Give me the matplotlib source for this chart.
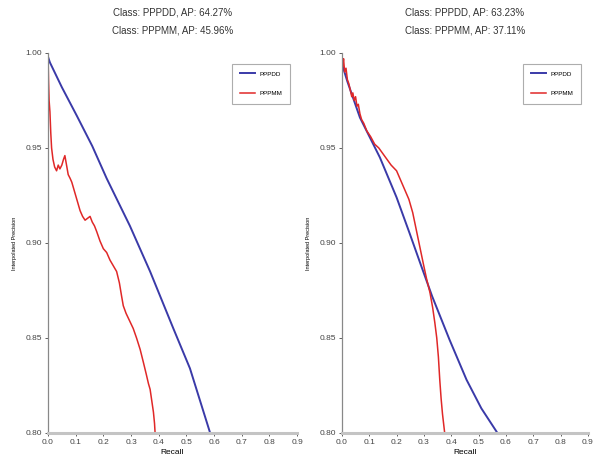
import matplotlib.pyplot as plt
from matplotlib.ticker import FormatStrFormatter
import numpy as np

# 左图数据 (recall, precision)
left_dd_recall = [0.0, 0.007, 0.05, 0.104, 0.16, 0.212, 0.296, 0.369, 0.453, 0.513, 0.586]
left_dd_prec = [0.998, 0.995, 0.982, 0.967, 0.951, 0.934, 0.909, 0.885, 0.855, 0.834, 0.800]

left_mm_recall = [0.0, 0.002, 0.004, 0.007, 0.010, 0.013, 0.018, 0.024, 0.031, 0.037, 0.043,
                  0.050, 0.056, 0.061, 0.067, 0.073, 0.080, 0.086, 0.092, 0.100, 0.108,
                  0.116, 0.125, 0.134, 0.143, 0.152, 0.160, 0.168, 0.176, 0.188, 0.200,
                  0.212, 0.224, 0.236, 0.248, 0.258, 0.266, 0.272, 0.282, 0.295, 0.308,
                  0.320, 0.333, 0.345, 0.355, 0.363, 0.369, 0.375, 0.381, 0.385, 0.387]
left_mm_prec = [1.000, 0.985, 0.975, 0.969, 0.958, 0.950, 0.944, 0.940, 0.938, 0.941, 0.939,
                0.941, 0.944, 0.946, 0.941, 0.936, 0.934, 0.932, 0.929, 0.925, 0.921,
                0.917, 0.914, 0.912, 0.913, 0.914, 0.911, 0.909, 0.906, 0.901, 0.897,
                0.895, 0.891, 0.888, 0.885, 0.879, 0.872, 0.867, 0.863, 0.859, 0.855,
                0.850, 0.844, 0.837, 0.831, 0.826, 0.823, 0.817, 0.811, 0.805, 0.800]

# 右图数据
right_dd_recall = [0.0, 0.005, 0.02, 0.066, 0.139, 0.200, 0.248, 0.290, 0.330, 0.394, 0.456, 0.510, 0.569]
right_dd_prec = [0.998, 0.992, 0.985, 0.966, 0.945, 0.924, 0.905, 0.888, 0.872, 0.849, 0.828, 0.813, 0.800]

right_mm_recall = [0.0, 0.003, 0.006, 0.010, 0.015, 0.020, 0.025, 0.030, 0.036, 0.040, 0.045,
                   0.050, 0.055, 0.060, 0.066, 0.072, 0.080, 0.091, 0.105, 0.120, 0.135,
                   0.150, 0.165, 0.180, 0.200, 0.215, 0.230, 0.245, 0.259, 0.272, 0.285,
                   0.298, 0.310, 0.322, 0.332, 0.340, 0.347, 0.353, 0.358, 0.363, 0.368,
                   0.372, 0.376]
right_mm_prec = [1.000, 0.993, 0.997, 0.990, 0.992, 0.986, 0.984, 0.981, 0.977, 0.979, 0.975,
                 0.977, 0.972, 0.973, 0.968, 0.965, 0.963, 0.959, 0.956, 0.952, 0.950,
                 0.947, 0.944, 0.941, 0.938, 0.933, 0.928, 0.923, 0.916, 0.907, 0.898,
                 0.889, 0.881, 0.874, 0.866, 0.858, 0.850, 0.840, 0.828, 0.818, 0.810,
                 0.805, 0.800]

titles = ['Class: PPPDD, AP: 64.27%\nClass: PPPMM, AP: 45.96%',
          'Class: PPPDD, AP: 63.23%\nClass: PPPMM, AP: 37.11%']
labels = ['PPPDD', 'PPPMM']
x_ticks = [0.0, 0.1, 0.2, 0.3, 0.4, 0.5, 0.6, 0.7, 0.8, 0.9]
y_ticks = [0.80, 0.85, 0.90, 0.95, 1.00]

plt.rcParams['font.family'] = ['Liberation Sans Narrow', 'Liberation Sans', 'DejaVu Sans']

fig = plt.figure(figsize=(6.03, 4.74), dpi=100)
ax1 = fig.add_axes([0.0796, 0.0865, 0.413, 0.8017])
ax2 = fig.add_axes([0.567, 0.0865, 0.408, 0.8017])

panels = [
    (ax1, left_dd_recall, left_dd_prec, left_mm_recall, left_mm_prec, titles[0]),
    (ax2, right_dd_recall, right_dd_prec, right_mm_recall, right_mm_prec, titles[1]),
]

for ax, r1, p1, r2, p2, title in panels:
    ax.plot(r1, p1, color='#3a3aa8', linewidth=1.4, label=labels[0])
    ax.plot(r2, p2, color='#e02828', linewidth=1.1, label=labels[1])
    ax.set_xlim(0, 0.9)
    ax.set_ylim(0.8, 1.0)
    ax.set_xticks(x_ticks)
    ax.set_yticks(y_ticks)
    ax.xaxis.set_major_formatter(FormatStrFormatter('%.1f'))
    ax.yaxis.set_major_formatter(FormatStrFormatter('%.2f'))
    ax.tick_params(axis='both', labelsize=6, length=2.5, width=0.6, colors='#444444', pad=2)
    ax.set_xlabel('Recall', fontsize=6, labelpad=2)
    ax.set_ylabel('Interpolated Precision', fontsize=4, labelpad=6)

    # 只保留左边和底边
    ax.spines['top'].set_visible(False)
    ax.spines['right'].set_visible(False)
    ax.spines['left'].set_color('#888888')
    ax.spines['left'].set_linewidth(0.9)
    ax.spines['bottom'].set_color('#c4c4c4')
    ax.spines['bottom'].set_linewidth(2.2)

    ax.set_title(title, fontsize=7, linespacing=2.0, pad=14, color='#333333')
    leg = ax.legend(loc='upper right', bbox_to_anchor=(0.985, 0.98), fontsize=4.5,
                    handlelength=2.4, labelspacing=2.3, borderpad=1.2, fancybox=False)
    leg.get_frame().set_edgecolor('#999999')
    leg.get_frame().set_linewidth(0.8)

plt.savefig('out.png', dpi=100)
plt.close()
